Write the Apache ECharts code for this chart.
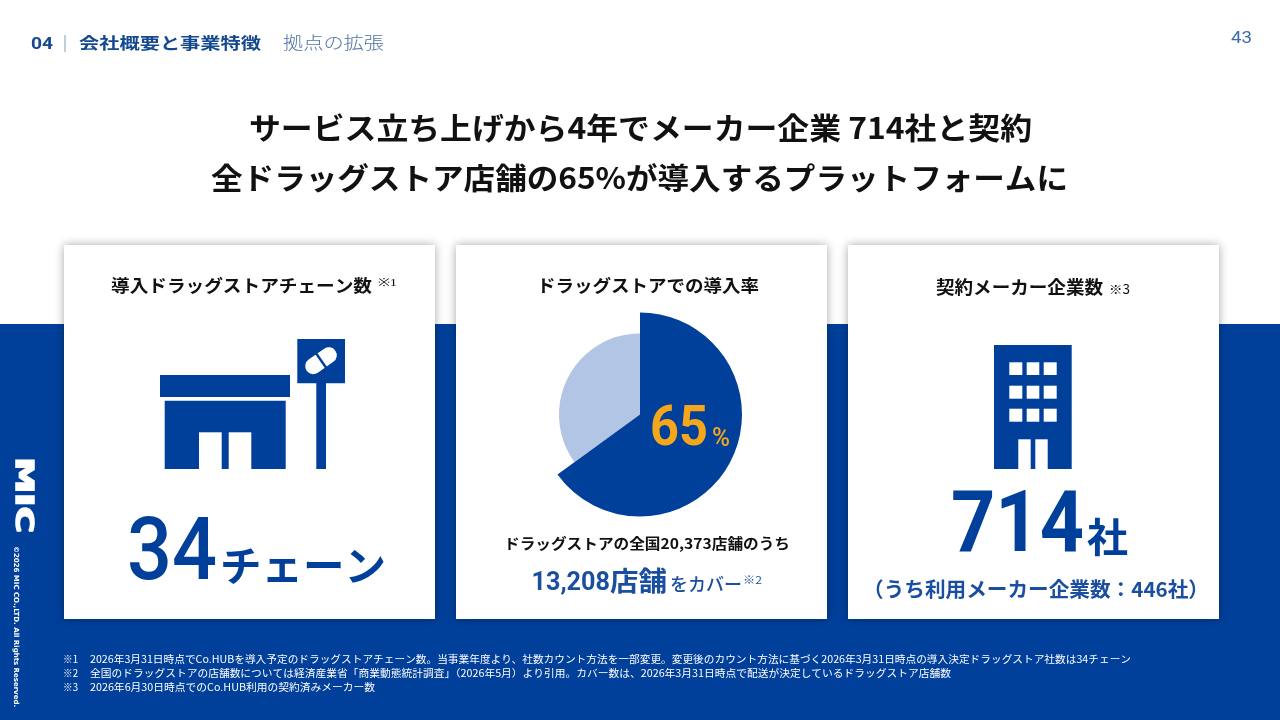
<!DOCTYPE html>
<html><head><meta charset="utf-8">
<style>html,body{margin:0;padding:0;background:#fff}#c{width:1280px;height:720px}</style>
<script src="https://cdn.jsdelivr.net/npm/echarts@6/dist/echarts.min.js"></script>
</head><body><div id="c"></div>
<script>
const pieNames = ['導入', '未導入'];
const pieShares = [65, 35];
const titleLines = ['サービス立ち上げから4年でメーカー企業 714社と契約', '全ドラッグストア店舗の65%が導入するプラットフォームに'];
const footnoteMarks = ['※1', '※2', '※3'];
const footnotes = [
  '2026年3月31日時点でCo.HUBを導入予定のドラッグストアチェーン数。当事業年度より、社数カウント方法を一部変更。変更後のカウント方法に基づく2026年3月31日時点の導入決定ドラッグストア社数は34チェーン',
  '全国のドラッグストアの店舗数については経済産業省「商業動態統計調査」（2026年5月）より引用。カバー数は、2026年3月31日時点で配送が決定しているドラッグストア店舗数',
  '2026年6月30日時点でのCo.HUB利用の契約済みメーカー数'
];

const BLUE = '#00409B', TEXTBLUE = '#1A4E9E', FONT = '"Noto Sans CJK JP","Noto Sans",sans-serif', NUM = 'Roboto,"Noto Sans",sans-serif';
const mctx = document.createElement('canvas').getContext('2d');
function T(text, x0, x1, y, size, weight, fill, opt) {
  opt = opt || {};
  const family = opt.family || FONT;
  const font = `${weight} ${size}px ${family}`;
  mctx.font = font;
  const w = mctx.measureText(text).width;
  const dy = family === NUM ? size * 0.09 : 0;
  return { type: 'text', x: x0, y: y + dy, scaleX: x1 ? (x1 - x0) / w : 1, z: 20, silent: true,
    style: { text: text, font: font, fill: fill, align: 'left', verticalAlign: 'middle' } };
}
function R(x0, y0, x1, y1, fill, z, extra) {
  return Object.assign({ type: 'rect', z: z || 5, silent: true,
    shape: { x: x0, y: y0, width: x1 - x0, height: y1 - y0 },
    style: Object.assign({ fill: fill }, extra || {}) });
}
const cardStyle = { shadowBlur: 9, shadowColor: 'rgba(0,0,0,0.35)', shadowOffsetX: 0, shadowOffsetY: 0 };
const els = [
  R(0, 324, 1280, 720, BLUE, 1),
  R(64, 245, 435, 619, '#fff', 2, cardStyle),
  R(456, 245, 827, 619, '#fff', 2, cardStyle),
  R(848, 245, 1219, 619, '#fff', 2, cardStyle),
  // header
  T('04', 31, 53, 43, 17, 700, '#14498F', { family: NUM }),
  R(64.5, 35, 65.5, 52, '#7f9cc2', 6),
  T('会社概要と事業特徴', 79, 261, 43, 16, 700, '#14498F'),
  T('拠点の拡張', 283, 384, 43, 16.5, 300, '#4F73A5'),
  T('43', 1231, 1252, 37, 17, 400, '#3D6AA8', { family: NUM }),
  // headline
  T(titleLines[0], 249, 1032, 128, 30, 700, '#111'),
  T(titleLines[1], 211, 1068, 178, 30, 700, '#111'),
  // card 1
  T('導入ドラッグストアチェーン数', 111, 372, 285, 17.5, 700, '#111'),
  T('※1', 378, 397, 283, 11, 400, '#111', { family: '"Liberation Serif",serif' }),
  R(160, 375, 290, 397, BLUE),
  R(164.7, 400.7, 285.7, 469, BLUE),
  R(199, 432.3, 221.7, 469, '#fff', 6),
  R(228.7, 432.3, 251.3, 469, '#fff', 6),
  R(297.3, 339, 345, 383.3, BLUE),
  R(316.3, 383, 326, 469, BLUE),
  { type: 'group', x: 321, y: 360.7, rotation: 35 * Math.PI / 180, z: 6, silent: true, children: [
    { type: 'rect', z: 6, shape: { x: -17.5, y: -8, width: 35, height: 16, r: 8 }, style: { fill: '#fff' } },
    { type: 'rect', z: 7, shape: { x: -1, y: -9, width: 2.4, height: 18 }, style: { fill: BLUE } }
  ] },
  T('34', 127, 217, 549, 87, 500, BLUE, { family: NUM }),
  T('チェーン', 220, 386, 565, 41, 700, BLUE),
  // card 2
  T('ドラッグストアでの導入率', 537, 759, 285, 17.5, 700, '#111'),
  T('65', 650, 708, 426, 56, 700, '#F5A71B', { family: NUM }),
  T('%', 712, 730, 437, 26, 500, '#F5A71B', { family: NUM }),
  T('ドラッグストアの全国20,373店舗のうち', 504, 790, 543, 14.5, 700, '#111'),
  T('13,208', 531.5, 610, 581, 25, 700, TEXTBLUE, { family: NUM }),
  T('店舗', 610, 667, 581, 27, 700, TEXTBLUE),
  T('をカバー', 670, 742, 584, 18, 500, TEXTBLUE),
  T('※2', 743, 762, 580, 11, 400, TEXTBLUE),
  // card 3
  T('契約メーカー企業数', 936, 1103, 287, 18, 700, '#111'),
  T('※3', 1109, 1130, 289, 13, 400, '#111'),
  R(994, 345, 1071.7, 469, BLUE),
  T('714', 951, 1084, 522, 86, 700, BLUE, { family: NUM }),
  T('社', 1087, 1128, 537, 40, 700, BLUE),
  T('（うち利用メーカー企業数：446社）', 863, 1209, 589, 20.5, 700, TEXTBLUE),
  // footnotes
  T(footnoteMarks[0], 63, 78, 659, 10, 400, '#fff'),
  T(footnoteMarks[1], 63, 78, 673, 10, 400, '#fff'),
  T(footnoteMarks[2], 63, 78, 687, 10, 400, '#fff'),
  T(footnotes[0], 90, 1131, 659, 10, 400, '#fff'),
  T(footnotes[1], 90, 951, 673, 10, 400, '#fff'),
  T(footnotes[2], 90, 375, 687, 10, 400, '#fff'),
  // logo (rotated)
  { type: 'text', x: 22, y: 495, rotation: -Math.PI / 2, scaleX: 1.5, z: 20, silent: true,
    style: { text: 'MIC', font: '700 24px "DejaVu Sans",sans-serif', fill: '#fff', stroke: '#fff', lineWidth: 1.5, align: 'center', verticalAlign: 'middle' } },
  { type: 'text', x: 16, y: 626.5, rotation: -Math.PI / 2, scaleX: 1, z: 20, silent: true,
    style: { text: '©2026 MIC CO.,LTD. All Rights Reserved.', font: '700 7px "DejaVu Sans",sans-serif', fill: '#fff', align: 'center', verticalAlign: 'middle' } }
];
// building windows and doors
[[1009.3, 1022.3], [1026.7, 1039.3], [1043.7, 1056.7]].forEach(c => {
  [[362.3, 375], [385.7, 398.7], [408.7, 421.7]].forEach(r => els.push(R(c[0], r[0], c[1], r[1], '#fff', 6)));
});
els.push(R(1018.3, 439.3, 1030.7, 469, '#fff', 6), R(1035.3, 439.3, 1047.7, 469, '#fff', 6));

const chart = echarts.init(document.getElementById('c'), null, { renderer: 'canvas', width: 1280, height: 720 });
const pieCommon = { type: 'pie', center: [640, 414.5], startAngle: 90, clockwise: true, silent: true, animation: false,
  label: { show: false }, labelLine: { show: false }, z: 10 };
chart.setOption({
  animation: false,
  backgroundColor: '#fff',
  graphic: { elements: els },
  series: [
    Object.assign({}, pieCommon, { radius: [0, 81], data: pieNames.map((n, i) => ({ name: n, value: pieShares[i],
      itemStyle: { color: i === 1 ? '#B3C5E4' : 'rgba(0,0,0,0)' } })) }),
    Object.assign({}, pieCommon, { radius: [0, 102], data: pieNames.map((n, i) => ({ name: n, value: pieShares[i],
      itemStyle: { color: i === 0 ? BLUE : 'rgba(0,0,0,0)' } })) })
  ]
});
</script></body></html>
